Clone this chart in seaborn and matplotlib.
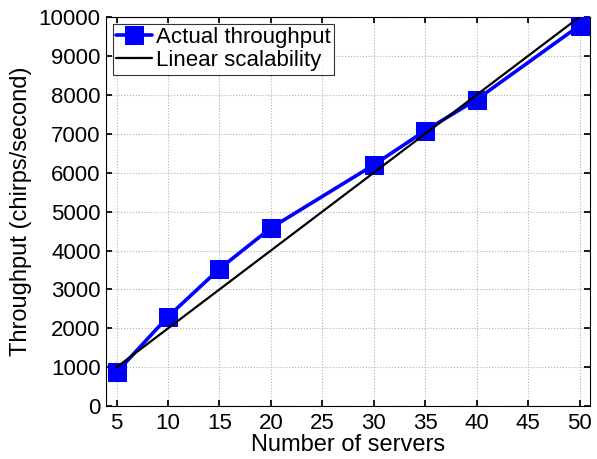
import matplotlib
matplotlib.use("Agg")
import matplotlib.pyplot as plt
import seaborn as sns
import pandas as pd

servers = [5, 10, 15, 20, 30, 35, 40, 50]
actual = [870, 2300, 3530, 4580, 6200, 7080, 7880, 9780]
linear_x = [5, 50]
linear_y = [1000, 10000]
x_ticks = [5, 10, 15, 20, 25, 30, 35, 40, 45, 50]
y_ticks = list(range(0, 10001, 1000))

sns.set_theme(style="white")
plt.rcParams['font.family'] = ['Liberation Sans', 'DejaVu Sans']
plt.rcParams['text.color'] = 'black'
plt.rcParams['axes.labelcolor'] = 'black'
plt.rcParams['xtick.color'] = 'black'
plt.rcParams['ytick.color'] = 'black'

fig = plt.figure(figsize=(5.97, 4.59), dpi=100)
ax = fig.add_axes([0.178, 0.115, 0.81, 0.848])

df_a = pd.DataFrame({"x": servers, "y": actual})
df_l = pd.DataFrame({"x": linear_x, "y": linear_y})

sns.lineplot(data=df_a, x="x", y="y", ax=ax, color="#0000ff", linewidth=2.6,
             marker="s", markersize=13, markeredgecolor="#0000ff",
             label="Actual throughput", zorder=3)
sns.lineplot(data=df_l, x="x", y="y", ax=ax, color="black", linewidth=1.6,
             label="Linear scalability", zorder=4)

ax.set_xlim(4, 51)
ax.set_ylim(0, 10000)
ax.set_xticks(x_ticks)
ax.set_yticks(y_ticks)
ax.tick_params(axis="both", direction="in", labelsize=16, length=4,
               top=True, right=True, bottom=True, left=True)
ax.tick_params(axis="y", pad=4)
ax.tick_params(axis="x", pad=5)
ax.grid(True, linestyle=":", color="#b0b0b0", linewidth=0.8)
for s in ax.spines.values():
    s.set_color("black")
    s.set_linewidth(0.8)
ax.set_xlabel("Number of servers", fontsize=17, labelpad=0)
ax.set_ylabel("Throughput (chirps/second)", fontsize=17, labelpad=5)

leg = ax.legend(loc="upper left", fontsize=16, frameon=True, fancybox=False,
                edgecolor="black", borderpad=0.15, labelspacing=0.1,
                handlelength=1.6, handletextpad=0.2, borderaxespad=0.3)
leg.get_frame().set_linewidth(0.8)

fig.savefig("out.png", dpi=100)
